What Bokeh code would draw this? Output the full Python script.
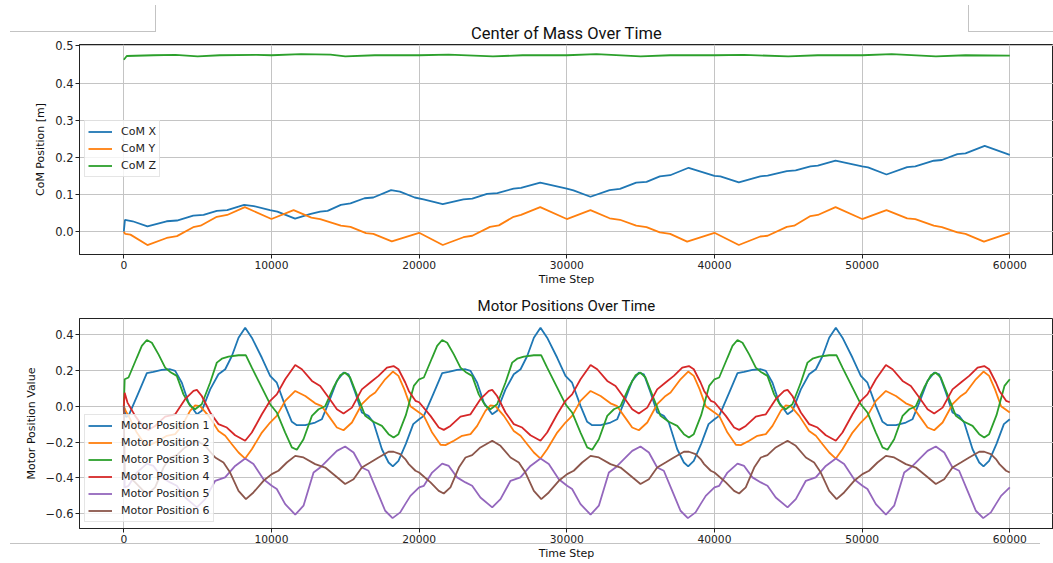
from bokeh.plotting import figure
from bokeh.models import Range1d, FixedTicker, CustomJSTickFormatter, Div
from bokeh.layouts import column
from bokeh.embed import file_html
from bokeh.resources import INLINE

# ---------------- data ----------------
x_ticks = [0, 10000, 20000, 30000, 40000, 50000, 60000]
com_y_ticks = [0.0, 0.1, 0.2, 0.3, 0.4, 0.5]
motor_y_ticks = [-0.6, -0.4, -0.2, 0.0, 0.2, 0.4]

com_x = [(0, 0.0), (80, 0.032), (600, 0.028), (1600, 0.014), (2900, 0.028), (3600, 0.030), (4700, 0.043),
         (5400, 0.045), (6300, 0.056), (7000, 0.058), (8150, 0.072), (8800, 0.069), (9900, 0.058), (10400, 0.054),
         (11600, 0.035), (12600, 0.047), (13300, 0.054), (13800, 0.056), (14700, 0.072), (15350, 0.076),
         (16300, 0.090), (16900, 0.092), (18100, 0.112), (18700, 0.108), (19700, 0.092), (20300, 0.087),
         (21600, 0.074), (23000, 0.087), (23600, 0.089), (24600, 0.102), (25300, 0.104), (26400, 0.116),
         (26900, 0.118), (28200, 0.132), (30000, 0.116), (30450, 0.111), (31600, 0.094), (32900, 0.112),
         (33600, 0.115), (34700, 0.132), (35400, 0.134), (36300, 0.149), (37000, 0.152), (38250, 0.172),
         (40000, 0.150), (40400, 0.149), (41650, 0.133), (43100, 0.149), (43600, 0.151), (44900, 0.163),
         (45500, 0.165), (46500, 0.176), (47000, 0.178), (48200, 0.191), (50000, 0.176), (50400, 0.173),
         (51650, 0.154), (53050, 0.174), (53600, 0.176), (54850, 0.191), (55400, 0.193), (56450, 0.209),
         (57000, 0.211), (58300, 0.231), (60000, 0.207)]

com_y = [(0, 0.0), (100, -0.006), (450, -0.008), (1600, -0.036), (2900, -0.017), (3600, -0.012), (4700, 0.012),
         (5200, 0.016), (6300, 0.040), (7000, 0.045), (8200, 0.066), (10000, 0.034), (11500, 0.058),
         (12700, 0.038), (13300, 0.034), (14700, 0.016), (15350, 0.013), (16400, -0.004), (16900, -0.006),
         (18150, -0.026), (20000, -0.003), (21600, -0.036), (23000, -0.015), (23600, -0.011), (24800, 0.013),
         (25400, 0.017), (26400, 0.040), (26900, 0.045), (28200, 0.066), (30000, 0.034), (31600, 0.058),
         (32900, 0.036), (33600, 0.032), (34700, 0.016), (35400, 0.012), (36300, -0.002), (37000, -0.006),
         (38150, -0.027), (40000, -0.003), (41650, -0.036), (43100, -0.013), (43600, -0.011), (44900, 0.013),
         (45400, 0.016), (46500, 0.042), (47000, 0.045), (48200, 0.066), (50000, 0.034), (51650, 0.058),
         (53050, 0.036), (53600, 0.034), (54850, 0.016), (55400, 0.012), (56450, -0.002), (57000, -0.006),
         (58250, -0.027), (60000, -0.003)]

com_z = [(0, 0.463), (200, 0.473), (2000, 0.475), (3500, 0.476), (5000, 0.472), (6500, 0.475), (9000, 0.476),
         (10000, 0.475), (12000, 0.478), (14000, 0.477), (15000, 0.472), (17000, 0.475), (20000, 0.475),
         (22000, 0.477), (25000, 0.472), (27000, 0.475), (30000, 0.475), (32000, 0.478), (35000, 0.472),
         (37000, 0.475), (40000, 0.475), (42000, 0.476), (45000, 0.472), (47000, 0.475), (50000, 0.475),
         (52000, 0.478), (55000, 0.472), (57000, 0.475), (60000, 0.474)]

motor_1 = [(0, 0.0), (150, -0.060), (320, -0.054), (1000, 0.076), (1560, 0.184), (2000, 0.191), (2570, 0.202),
           (3140, 0.206), (3480, 0.197), (3930, 0.131), (4380, 0.020), (4950, -0.045), (5280, -0.026),
           (5850, 0.094), (6410, 0.178), (6870, 0.206), (7320, 0.280), (7770, 0.382), (8220, 0.438),
           (8670, 0.382), (9350, 0.270), (9910, 0.169), (10360, 0.131), (10930, 0.002), (11380, -0.087),
           (11720, -0.106), (12290, -0.106), (12960, -0.091), (13410, -0.073), (13870, 0.020), (14430, 0.141),
           (14880, 0.187), (15220, 0.178), (15670, 0.076), (16120, -0.035), (16570, -0.054), (16910, -0.091),
           (17480, -0.240), (17930, -0.314), (18220, -0.336), (18600, -0.305), (19100, -0.210), (19600, -0.100),
           (20000, -0.073), (20320, -0.054), (21000, 0.076), (21560, 0.184), (22000, 0.191), (22570, 0.202),
           (23140, 0.206), (23480, 0.197), (23930, 0.131), (24380, 0.020), (24950, -0.045), (25280, -0.026),
           (25850, 0.094), (26410, 0.178), (26870, 0.206), (27320, 0.280), (27770, 0.382), (28220, 0.438),
           (28670, 0.382), (29350, 0.270), (29910, 0.169), (30360, 0.131), (30930, 0.002), (31380, -0.087),
           (31720, -0.106), (32290, -0.106), (32960, -0.091), (33410, -0.073), (33870, 0.020), (34430, 0.141),
           (34880, 0.187), (35220, 0.178), (35670, 0.076), (36120, -0.035), (36570, -0.054), (36910, -0.091),
           (37480, -0.240), (37930, -0.314), (38220, -0.336), (38600, -0.305), (39100, -0.210), (39600, -0.100),
           (40000, -0.073), (40320, -0.054), (41000, 0.076), (41560, 0.184), (42000, 0.191), (42570, 0.202),
           (43140, 0.206), (43480, 0.197), (43930, 0.131), (44380, 0.020), (44950, -0.045), (45280, -0.026),
           (45850, 0.094), (46410, 0.178), (46870, 0.206), (47320, 0.280), (47770, 0.382), (48220, 0.438),
           (48670, 0.382), (49350, 0.270), (49910, 0.169), (50360, 0.131), (50930, 0.002), (51380, -0.087),
           (51720, -0.106), (52290, -0.106), (52960, -0.091), (53410, -0.073), (53870, 0.020), (54430, 0.141),
           (54880, 0.187), (55220, 0.178), (55670, 0.076), (56120, -0.035), (56570, -0.054), (56910, -0.091),
           (57480, -0.240), (57930, -0.314), (58220, -0.336), (58600, -0.305), (59100, -0.210), (59600, -0.100),
           (60000, -0.073)]

motor_2 = [(0, 0.0), (150, -0.030), (320, -0.054), (880, -0.147), (1450, -0.215), (1780, -0.217), (2350, -0.193),
           (2910, -0.165), (3480, -0.156), (3930, -0.110), (4490, -0.026), (4830, 0.005), (5170, 0.000),
           (5740, -0.054), (6410, -0.138), (6870, -0.165), (7320, -0.212), (7770, -0.258), (8220, -0.292),
           (8670, -0.240), (9350, -0.147), (9910, -0.091), (10360, -0.054), (10930, 0.030), (11610, 0.085),
           (12290, 0.057), (12960, 0.016), (13410, 0.000), (13870, -0.054), (14430, -0.119), (14880, -0.134),
           (15450, -0.091), (16120, 0.011), (16690, 0.057), (17030, 0.076), (17700, 0.150), (18220, 0.193),
           (18600, 0.169), (19000, 0.094), (19410, 0.000),
           (20000, -0.035), (20320, -0.054), (20880, -0.147), (21450, -0.215), (21780, -0.217), (22350, -0.193),
           (22910, -0.165), (23480, -0.156), (23930, -0.110), (24490, -0.026), (24830, 0.005), (25170, 0.000),
           (25740, -0.054), (26410, -0.138), (26870, -0.165), (27320, -0.212), (27770, -0.258), (28220, -0.292),
           (28670, -0.240), (29350, -0.147), (29910, -0.091), (30360, -0.054), (30930, 0.030), (31610, 0.085),
           (32290, 0.057), (32960, 0.016), (33410, 0.000), (33870, -0.054), (34430, -0.119), (34880, -0.134),
           (35450, -0.091), (36120, 0.011), (36690, 0.057), (37030, 0.076), (37700, 0.150), (38220, 0.193),
           (38600, 0.169), (39000, 0.094), (39410, 0.000),
           (40000, -0.035), (40320, -0.054), (40880, -0.147), (41450, -0.215), (41780, -0.217), (42350, -0.193),
           (42910, -0.165), (43480, -0.156), (43930, -0.110), (44490, -0.026), (44830, 0.005), (45170, 0.000),
           (45740, -0.054), (46410, -0.138), (46870, -0.165), (47320, -0.212), (47770, -0.258), (48220, -0.292),
           (48670, -0.240), (49350, -0.147), (49910, -0.091), (50360, -0.054), (50930, 0.030), (51610, 0.085),
           (52290, 0.057), (52960, 0.016), (53410, 0.000), (53870, -0.054), (54430, -0.119), (54880, -0.134),
           (55450, -0.091), (56120, 0.011), (56690, 0.057), (57030, 0.076), (57700, 0.150), (58220, 0.193),
           (58600, 0.169), (59000, 0.094), (59410, 0.000), (60000, -0.035)]

motor_3 = [(0, 0.0), (60, 0.150), (320, 0.160), (880, 0.270), (1220, 0.336), (1560, 0.369), (1900, 0.354),
           (2350, 0.289), (2800, 0.215), (3140, 0.191), (3590, 0.169), (4040, 0.066), (4490, 0.002),
           (4830, -0.017), (5280, 0.011), (5850, 0.132), (6300, 0.243), (6640, 0.265), (7090, 0.276),
           (7770, 0.284), (8270, 0.284), (8670, 0.215), (9350, 0.104), (9910, 0.011), (10360, -0.035),
           (10930, -0.147), (11380, -0.230), (11720, -0.243), (12170, -0.184), (12740, -0.054), (13190, -0.017),
           (13640, 0.000), (14200, 0.104), (14650, 0.172), (14990, 0.187), (15330, 0.160), (15900, 0.039),
           (16350, -0.054), (16910, -0.087), (17480, -0.110), (17930, -0.156), (18270, -0.175), (18600, -0.156),
           (19100, -0.050), (19640, 0.113),
           (20000, 0.150), (20320, 0.160), (20880, 0.270), (21220, 0.336), (21560, 0.369), (21900, 0.354),
           (22350, 0.289), (22800, 0.215), (23140, 0.191), (23590, 0.169), (24040, 0.066), (24490, 0.002),
           (24830, -0.017), (25280, 0.011), (25850, 0.132), (26300, 0.243), (26640, 0.265), (27090, 0.276),
           (27770, 0.284), (28270, 0.284), (28670, 0.215), (29350, 0.104), (29910, 0.011), (30360, -0.035),
           (30930, -0.147), (31380, -0.230), (31720, -0.243), (32170, -0.184), (32740, -0.054), (33190, -0.017),
           (33640, 0.000), (34200, 0.104), (34650, 0.172), (34990, 0.187), (35330, 0.160), (35900, 0.039),
           (36350, -0.054), (36910, -0.087), (37480, -0.110), (37930, -0.156), (38270, -0.175), (38600, -0.156),
           (39100, -0.050), (39640, 0.113),
           (40000, 0.150), (40320, 0.160), (40880, 0.270), (41220, 0.336), (41560, 0.369), (41900, 0.354),
           (42350, 0.289), (42800, 0.215), (43140, 0.191), (43590, 0.169), (44040, 0.066), (44490, 0.002),
           (44830, -0.017), (45280, 0.011), (45850, 0.132), (46300, 0.243), (46640, 0.265), (47090, 0.276),
           (47770, 0.284), (48270, 0.284), (48670, 0.215), (49350, 0.104), (49910, 0.011), (50360, -0.035),
           (50930, -0.147), (51380, -0.230), (51720, -0.243), (52170, -0.184), (52740, -0.054), (53190, -0.017),
           (53640, 0.000), (54200, 0.104), (54650, 0.172), (54990, 0.187), (55330, 0.160), (55900, 0.039),
           (56350, -0.054), (56910, -0.087), (57480, -0.110), (57930, -0.156), (58270, -0.175), (58600, -0.156),
           (59100, -0.050), (59640, 0.113), (60000, 0.150)]

motor_4 = [(0, 0.0), (60, 0.075), (250, 0.020), (770, -0.054), (1330, -0.119), (1670, -0.132), (2120, -0.110),
           (2800, -0.058), (3480, -0.045), (4150, 0.039), (4720, 0.085), (4950, 0.091), (5280, 0.057),
           (5850, -0.035), (6410, -0.100), (6980, -0.119), (7540, -0.162), (8220, -0.193), (8670, -0.147),
           (9350, -0.045), (9910, 0.030), (10360, 0.066), (10930, 0.150), (11610, 0.230), (12060, 0.206),
           (12740, 0.141), (13300, 0.113), (13870, 0.048), (14430, -0.017), (14880, -0.041), (15450, -0.008),
           (16120, 0.094), (16690, 0.132), (17250, 0.169), (17820, 0.215), (18270, 0.224), (18600, 0.206),
           (19060, 0.132), (19300, 0.085), (19750, 0.030),
           (20000, 0.022), (20770, -0.054), (21330, -0.119), (21670, -0.132), (22120, -0.110),
           (22800, -0.058), (23480, -0.045), (24150, 0.039), (24720, 0.085), (24950, 0.091), (25280, 0.057),
           (25850, -0.035), (26410, -0.100), (26980, -0.119), (27540, -0.162), (28220, -0.193), (28670, -0.147),
           (29350, -0.045), (29910, 0.030), (30360, 0.066), (30930, 0.150), (31610, 0.230), (32060, 0.206),
           (32740, 0.141), (33300, 0.113), (33870, 0.048), (34430, -0.017), (34880, -0.041), (35450, -0.008),
           (36120, 0.094), (36690, 0.132), (37250, 0.169), (37820, 0.215), (38270, 0.224), (38600, 0.206),
           (39060, 0.132), (39300, 0.085), (39750, 0.030),
           (40000, 0.022), (40770, -0.054), (41330, -0.119), (41670, -0.132), (42120, -0.110),
           (42800, -0.058), (43480, -0.045), (44150, 0.039), (44720, 0.085), (44950, 0.091), (45280, 0.057),
           (45850, -0.035), (46410, -0.100), (46980, -0.119), (47540, -0.162), (48220, -0.193), (48670, -0.147),
           (49350, -0.045), (49910, 0.030), (50360, 0.066), (50930, 0.150), (51610, 0.230), (52060, 0.206),
           (52740, 0.141), (53300, 0.113), (53870, 0.048), (54430, -0.017), (54880, -0.041), (55450, -0.008),
           (56120, 0.094), (56690, 0.132), (57250, 0.169), (57820, 0.215), (58270, 0.224), (58600, 0.206),
           (59060, 0.132), (59300, 0.085), (59750, 0.030), (60000, 0.022)]

motor_5 = [(0, 0.0), (60, -0.453), (320, -0.444), (880, -0.370), (1560, -0.320), (2010, -0.333), (2570, -0.397),
           (3140, -0.425), (3590, -0.444), (4150, -0.509), (4950, -0.564), (5510, -0.518), (6190, -0.416),
           (6860, -0.397), (7540, -0.333), (8220, -0.292), (8780, -0.323), (9460, -0.407), (10020, -0.444),
           (10360, -0.462), (10930, -0.546), (11610, -0.605), (12170, -0.555), (12850, -0.370), (13300, -0.342),
           (13870, -0.295), (14430, -0.249), (14990, -0.225), (15560, -0.258), (16120, -0.342), (16570, -0.360),
           (17140, -0.472), (17700, -0.583), (18200, -0.624), (18720, -0.592), (19060, -0.546), (19410, -0.500),
           (20000, -0.453), (20320, -0.444), (20880, -0.370), (21560, -0.320), (22010, -0.333), (22570, -0.397),
           (23140, -0.425), (23590, -0.444), (24150, -0.509), (24950, -0.564), (25510, -0.518), (26190, -0.416),
           (26860, -0.397), (27540, -0.333), (28220, -0.292), (28780, -0.323), (29460, -0.407), (30020, -0.444),
           (30360, -0.462), (30930, -0.546), (31610, -0.605), (32170, -0.555), (32850, -0.370), (33300, -0.342),
           (33870, -0.295), (34430, -0.249), (34990, -0.225), (35560, -0.258), (36120, -0.342), (36570, -0.360),
           (37140, -0.472), (37700, -0.583), (38200, -0.624), (38720, -0.592), (39060, -0.546), (39410, -0.500),
           (40000, -0.453), (40320, -0.444), (40880, -0.370), (41560, -0.320), (42010, -0.333), (42570, -0.397),
           (43140, -0.425), (43590, -0.444), (44150, -0.509), (44950, -0.564), (45510, -0.518), (46190, -0.416),
           (46860, -0.397), (47540, -0.333), (48220, -0.292), (48780, -0.323), (49460, -0.407), (50020, -0.444),
           (50360, -0.462), (50930, -0.546), (51610, -0.605), (52170, -0.555), (52850, -0.370), (53300, -0.342),
           (53870, -0.295), (54430, -0.249), (54990, -0.225), (55560, -0.258), (56120, -0.342), (56570, -0.360),
           (57140, -0.472), (57700, -0.583), (58200, -0.624), (58720, -0.592), (59060, -0.546), (59410, -0.500),
           (60000, -0.453)]

motor_6 = [(0, 0.0), (60, -0.370), (770, -0.425), (1330, -0.472), (1670, -0.487), (2120, -0.453), (2690, -0.342),
           (3140, -0.286), (3590, -0.273), (4150, -0.230), (4950, -0.193), (5510, -0.221), (6190, -0.286),
           (6750, -0.314), (7200, -0.370), (7770, -0.472), (8270, -0.518), (8780, -0.481), (9460, -0.416),
           (10020, -0.379), (10470, -0.360), (11040, -0.314), (11610, -0.277), (12170, -0.286), (12960, -0.323),
           (13640, -0.342), (14320, -0.388), (14990, -0.434), (15560, -0.407), (16120, -0.342), (16690, -0.314),
           (17250, -0.286), (17930, -0.254), (18270, -0.254), (18720, -0.267), (19060, -0.295), (19300, -0.323),
           (19750, -0.360),
           (20000, -0.370), (20770, -0.425), (21330, -0.472), (21670, -0.487), (22120, -0.453), (22690, -0.342),
           (23140, -0.286), (23590, -0.273), (24150, -0.230), (24950, -0.193), (25510, -0.221), (26190, -0.286),
           (26750, -0.314), (27200, -0.370), (27770, -0.472), (28270, -0.518), (28780, -0.481), (29460, -0.416),
           (30020, -0.379), (30470, -0.360), (31040, -0.314), (31610, -0.277), (32170, -0.286), (32960, -0.323),
           (33640, -0.342), (34320, -0.388), (34990, -0.434), (35560, -0.407), (36120, -0.342), (36690, -0.314),
           (37250, -0.286), (37930, -0.254), (38270, -0.254), (38720, -0.267), (39060, -0.295), (39300, -0.323),
           (39750, -0.360),
           (40000, -0.370), (40770, -0.425), (41330, -0.472), (41670, -0.487), (42120, -0.453), (42690, -0.342),
           (43140, -0.286), (43590, -0.273), (44150, -0.230), (44950, -0.193), (45510, -0.221), (46190, -0.286),
           (46750, -0.314), (47200, -0.370), (47770, -0.472), (48270, -0.518), (48780, -0.481), (49460, -0.416),
           (50020, -0.379), (50470, -0.360), (51040, -0.314), (51610, -0.277), (52170, -0.286), (52960, -0.323),
           (53640, -0.342), (54320, -0.388), (54990, -0.434), (55560, -0.407), (56120, -0.342), (56690, -0.314),
           (57250, -0.286), (57930, -0.254), (58270, -0.254), (58720, -0.267), (59060, -0.295), (59300, -0.323),
           (59750, -0.360), (60000, -0.370)]

com_series = [("CoM X", com_x), ("CoM Y", com_y), ("CoM Z", com_z)]
motor_series = [("Motor Position 1", motor_1), ("Motor Position 2", motor_2), ("Motor Position 3", motor_3),
                ("Motor Position 4", motor_4), ("Motor Position 5", motor_5), ("Motor Position 6", motor_6)]
colors = ["#1f77b4", "#ff7f0e", "#2ca02c", "#d62728", "#9467bd", "#8c564b"]

FONT = "DejaVu Sans"
TITLE_FONT = "Roboto"
fmt_x = CustomJSTickFormatter(code="return tick.toFixed(0);")
fmt_y = CustomJSTickFormatter(code="return (tick < -1e-9 ? '\\u2212' : '') + Math.abs(tick).toFixed(1);")


def style(p, yticks, ylabel, title_size, title_offset, title_standoff):
    p.title.align = "center"
    p.title.text_font = TITLE_FONT
    p.title.text_font_size = title_size
    p.title.text_font_style = "normal"
    p.title.text_color = "#111111"
    p.title.offset = title_offset
    p.title.standoff = title_standoff
    p.outline_line_color = "#222222"
    p.outline_line_width = 1
    p.xaxis.ticker = FixedTicker(ticks=x_ticks)
    p.yaxis.ticker = FixedTicker(ticks=yticks)
    p.xaxis.formatter = fmt_x
    p.yaxis.formatter = fmt_y
    p.xaxis.axis_label = "Time Step"
    p.yaxis.axis_label = ylabel
    for ax in (p.xaxis, p.yaxis):
        ax.axis_line_color = "#222222"
        ax.major_tick_line_color = "#222222"
        ax.major_tick_out = 4
        ax.major_tick_in = 0
        ax.minor_tick_line_color = None
        ax.major_label_text_font = FONT
        ax.major_label_text_color = "#222222"
        ax.axis_label_text_font = FONT
        ax.axis_label_text_font_size = "11px"
        ax.axis_label_text_font_style = "normal"
        ax.axis_label_text_color = "#111111"
    p.xaxis.major_label_text_font_size = "10.7px"
    p.yaxis.major_label_text_font_size = "11.5px"
    p.xaxis.major_label_standoff = 2
    p.xaxis.axis_label_standoff = 1
    p.yaxis.major_label_standoff = 2
    p.yaxis.axis_label_standoff = 5
    for g in (p.xgrid, p.ygrid):
        g.grid_line_color = "#c4c4c4"
        g.grid_line_width = 1
    p.background_fill_color = "white"
    p.border_fill_color = "white"


def style_legend(p, loc):
    lg = p.legend[0]
    lg.location = loc
    lg.label_text_font = FONT
    lg.label_text_font_size = "11px"
    lg.label_text_color = "#222222"
    lg.glyph_width = 24
    lg.glyph_height = 15
    lg.label_height = 15
    lg.label_standoff = 9
    lg.spacing = 2
    lg.padding = 3
    lg.margin = 0
    lg.border_line_color = "#cccccc"
    lg.border_line_width = 1
    lg.background_fill_color = "white"
    lg.background_fill_alpha = 0.8


p1 = figure(width=1053, height=290, output_backend="svg", toolbar_location=None,
            title="Center of Mass Over Time",
            x_range=Range1d(-3000, 62960), y_range=Range1d(-0.0615, 0.504),
            min_border_left=79, min_border_right=0, min_border_top=44, min_border_bottom=36)
for (name, pts), c in zip(com_series, colors):
    xs = [t for t, v in pts]
    ys = [v for t, v in pts]
    p1.line(xs, ys, line_color=c, line_width=1.8, legend_label=name)
style(p1, com_y_ticks, "CoM Position [m]", "16.5px", -6, 4)
style_legend(p1, (5, 77))

p2 = figure(width=1053, height=272, output_backend="svg", toolbar_location=None,
            title="Motor Positions Over Time",
            x_range=Range1d(-3000, 62960), y_range=Range1d(-0.682, 0.489),
            min_border_left=79, min_border_right=0, min_border_top=28, min_border_bottom=34)
for (name, pts), c in zip(motor_series, colors):
    xs = [t for t, v in pts]
    ys = [v for t, v in pts]
    p2.line(xs, ys, line_color=c, line_width=1.8, legend_label=name)
style(p2, motor_y_ticks, "Motor Position Value", "15px", 0, 8)
style_legend(p2, (5, 6))

line_css = "position:absolute;background:#c3c3c3;"
deco = Div(width=1053, height=1, styles={"position": "relative", "overflow": "visible"},
           text=(
               f'<div style="{line_css}left:5px;top:-536px;width:146px;height:1px"></div>'
               f'<div style="{line_css}left:150px;top:-562px;width:1px;height:27px"></div>'
               f'<div style="{line_css}left:963px;top:-562px;width:1px;height:27px"></div>'
               f'<div style="{line_css}left:963px;top:-536px;width:90px;height:1px"></div>'
               f'<div style="{line_css}left:5px;top:-24px;width:1030px;height:1px"></div>'
           ))

layout = column(p1, p2, deco, spacing=0)
open("out.html", "w").write(file_html(layout, INLINE))
